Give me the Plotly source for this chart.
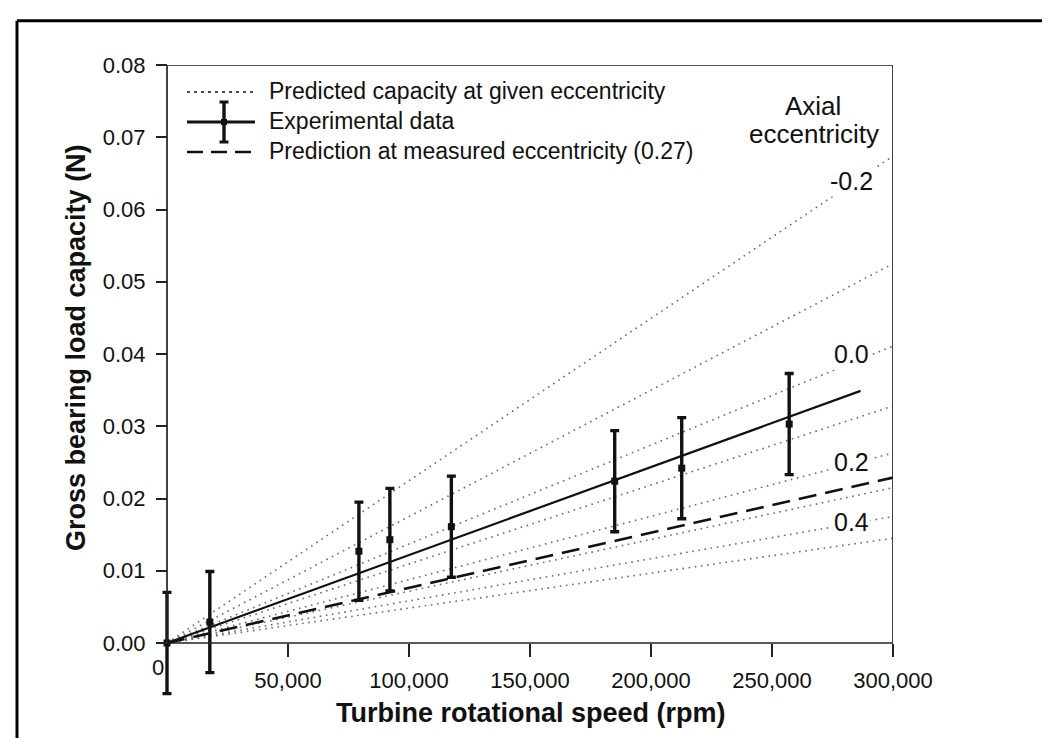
import plotly.graph_objects as go

# ---------------- data ----------------
speed_rpm = [0, 17700, 79300, 92100, 117500, 185000, 212700, 257100]
load_N = [0.0, 0.0029, 0.0127, 0.0143, 0.0161, 0.0224, 0.0242, 0.0303]
load_err = [0.0070, 0.0070, 0.0068, 0.0071, 0.0070, 0.0070, 0.0070, 0.0070]

fit_x = [0, 286600]
fit_y = [0.0, 0.0349]

pred_x = [0, 300000]
pred_y = [0.0, 0.0229]

ecc_values = [-0.2, -0.1, 0.0, 0.1, 0.2, 0.3, 0.4, 0.5]
ecc_x = [0, 300000]
ecc_end = [0.0674, 0.0525, 0.0411, 0.0328, 0.0263, 0.0215, 0.0175, 0.0145]
ecc_labels = ["-0.2", "0.0", "0.2", "0.4"]
ecc_label_y = [0.0640, 0.0400, 0.0251, 0.0168]

x_ticks = [50000, 100000, 150000, 200000, 250000, 300000]
x_ticktext = ["50,000", "100,000", "150,000", "200,000", "250,000", "300,000"]
y_ticks = [0.00, 0.01, 0.02, 0.03, 0.04, 0.05, 0.06, 0.07, 0.08]

# ---------------- layout geometry ----------------
W, H = 1050, 738
X0_PX = 159                      # pixel of x = 0
X300_PX = 885                    # pixel of x = 300,000
ML, MR, MT, MB = 144, W - X300_PX, 57, 42
PW, PH = W - ML - MR, H - MT - MB
XMAX = 300000
XMIN = XMAX - PW * XMAX / (X300_PX - X0_PX)
YTOP = 0.08
PX_PER_UNIT = 578 / 0.08
YMIN = YTOP - PH / PX_PER_UNIT


def px(xp):
    return (xp - ML) / PW


def py(yp):
    return (H - MB - yp) / PH


FONT = "Liberation Sans, Arial, Helvetica, sans-serif"
INK = "#111111"

fig = go.Figure()

for e, yend in zip(ecc_values, ecc_end):
    fig.add_trace(go.Scatter(
        x=ecc_x, y=[0.0, yend], mode="lines",
        line=dict(color="#6a6a6a", width=1.6, dash="1.6px,4.6px"),
        showlegend=False, hoverinfo="skip", name=f"e={e}"))

fig.add_trace(go.Scatter(
    x=pred_x, y=pred_y, mode="lines",
    line=dict(color=INK, width=2.6, dash="18px,9px"),
    showlegend=False))

fig.add_trace(go.Scatter(
    x=fit_x, y=fit_y, mode="lines",
    line=dict(color=INK, width=2.2),
    showlegend=False))

fig.add_trace(go.Scatter(
    x=speed_rpm, y=load_N, mode="markers",
    marker=dict(symbol="square", size=7, color=INK),
    error_y=dict(type="data", array=load_err, visible=True,
                 color=INK, thickness=3.4, width=4.5),
    showlegend=False, cliponaxis=False))

shapes = []
# plot frame
shapes.append(dict(type="rect", xref="x", yref="y", x0=0, x1=300000, y0=0, y1=0.08,
                   line=dict(color="#222", width=1.7)))
# outer page border (top and left)
shapes.append(dict(type="line", xref="paper", yref="paper",
                   x0=px(9), x1=px(1060), y0=py(12.7), y1=py(12.7),
                   line=dict(color="black", width=3)))
shapes.append(dict(type="line", xref="paper", yref="paper",
                   x0=px(9), x1=px(9), y0=py(12.7), y1=py(745),
                   line=dict(color="black", width=3)))

# legend samples
lx0, lx1 = 179, 247
r1, r2, r3 = 84, 114, 144
shapes.append(dict(type="line", xref="paper", yref="paper",
                   x0=px(lx0), x1=px(lx1), y0=py(r1), y1=py(r1),
                   line=dict(color=INK, width=1.4, dash="3px,4px")))
shapes.append(dict(type="line", xref="paper", yref="paper",
                   x0=px(lx0), x1=px(lx1), y0=py(r2), y1=py(r2),
                   line=dict(color=INK, width=3)))
shapes.append(dict(type="line", xref="paper", yref="paper",
                   x0=px(216), x1=px(216), y0=py(r2 - 20), y1=py(r2 + 20),
                   line=dict(color=INK, width=3.4)))
for cy in (r2 - 20, r2 + 20):
    shapes.append(dict(type="line", xref="paper", yref="paper",
                       x0=px(211.5), x1=px(220.5), y0=py(cy), y1=py(cy),
                       line=dict(color=INK, width=3)))
shapes.append(dict(type="rect", xref="paper", yref="paper",
                   x0=px(213), x1=px(219), y0=py(r2 - 3), y1=py(r2 + 3),
                   fillcolor=INK, line=dict(width=0)))
shapes.append(dict(type="line", xref="paper", yref="paper",
                   x0=px(lx0), x1=px(lx1), y0=py(r3), y1=py(r3),
                   line=dict(color=INK, width=2.6, dash="16px,8px")))

annotations = []
leg_texts = ["Predicted capacity at given eccentricity", "Experimental data",
             "Prediction at measured eccentricity (0.27)"]
for t, ry in zip(leg_texts, (r1 - 1, r2 - 1, r3 - 1)):
    annotations.append(dict(text=t, xref="paper", yref="paper", x=px(259), y=py(ry),
                            xanchor="left", yanchor="middle", showarrow=False,
                            font=dict(family=FONT, size=23, color=INK)))

annotations.append(dict(text="Axial", xref="paper", yref="paper", x=px(805), y=py(98),
                        xanchor="center", yanchor="middle", showarrow=False,
                        font=dict(family=FONT, size=26, color=INK)))
annotations.append(dict(text="eccentricity", xref="paper", yref="paper", x=px(806), y=py(126),
                        xanchor="center", yanchor="middle", showarrow=False,
                        font=dict(family=FONT, size=26, color=INK)))

for lab, ly in zip(ecc_labels, ecc_label_y):
    annotations.append(dict(text=lab, xref="x", yref="y", x=283000, y=ly,
                            xanchor="center", yanchor="middle", showarrow=False,
                            bgcolor="white", borderpad=1,
                            font=dict(family=FONT, size=25, color=INK)))

annotations.append(dict(text="0", xref="paper", yref="paper", x=px(150), y=py(659),
                        xanchor="center", yanchor="middle", showarrow=False,
                        font=dict(family=FONT, size=22, color=INK)))

annotations.append(dict(text="<b>Turbine rotational speed (rpm)</b>", xref="paper", yref="paper",
                        x=px(523), y=py(705), xanchor="center", yanchor="middle",
                        showarrow=False, font=dict(family=FONT, size=27, color=INK)))
annotations.append(dict(text="<b>Gross bearing load capacity (N)</b>", xref="paper", yref="paper",
                        x=px(68), y=py(340), xanchor="center", yanchor="middle",
                        textangle=-90, showarrow=False,
                        font=dict(family=FONT, size=27, color=INK)))

fig.update_layout(
    width=W, height=H,
    margin=dict(l=ML, r=MR, t=MT, b=MB, pad=0),
    paper_bgcolor="white", plot_bgcolor="white",
    showlegend=False,
    shapes=shapes, annotations=annotations,
    xaxis=dict(range=[XMIN, XMAX], tickvals=x_ticks, ticktext=x_ticktext,
               ticks="outside", ticklen=13, tickwidth=1.7, tickcolor="#222",
               showline=False, showgrid=False, zeroline=False,
               anchor="free", position=(0 - YMIN) / (YTOP - YMIN),
               ticklabelstandoff=5,
               tickfont=dict(family=FONT, size=22, color=INK)),
    yaxis=dict(range=[YMIN, YTOP], tickvals=y_ticks, tickformat=".2f",
               ticks="outside", ticklen=11, tickwidth=1.7, tickcolor="#222",
               showline=False, showgrid=False, zeroline=False,
               anchor="free", position=(0 - XMIN) / (XMAX - XMIN),
               ticklabelstandoff=6,
               tickfont=dict(family=FONT, size=22, color=INK)),
)

fig.write_html("out.html")
